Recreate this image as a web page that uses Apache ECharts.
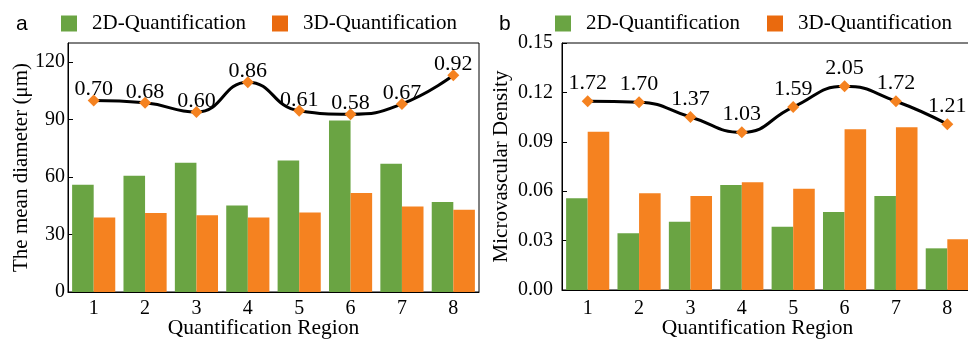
<!DOCTYPE html>
<html>
<head>
<meta charset="utf-8">
<script src="https://cdn.jsdelivr.net/npm/echarts@6/dist/echarts.min.js"></script>
<style>
html,body{margin:0;padding:0;background:#fff;}
#c{width:968px;height:339px;}
</style>
</head>
<body>
<div id="c"></div>
<script>
const categories = ['1','2','3','4','5','6','7','8'];
const diam2D = [56.0, 60.7, 67.5, 45.2, 68.6, 89.5, 66.9, 47.0];
const diam3D = [38.9, 41.2, 40.1, 38.9, 41.5, 51.7, 44.7, 42.9];
const diamRatio = [0.70, 0.68, 0.60, 0.86, 0.61, 0.58, 0.67, 0.92];
const dens2D = [0.0557, 0.0344, 0.0415, 0.0638, 0.0384, 0.0474, 0.0571, 0.0253];
const dens3D = [0.0961, 0.0587, 0.0571, 0.0654, 0.0615, 0.0976, 0.0988, 0.0308];
const densRatio = [1.72, 1.70, 1.37, 1.03, 1.59, 2.05, 1.72, 1.21];
const diamTicks = {min: 0, max: 130, interval: 30};
const densTicks = {min: 0, max: 0.15, interval: 0.03};

const SERIF = '"Liberation Serif", "Times New Roman", serif';
const GREEN = '#6AA443';
const ORANGE = '#F58220';
const ORANGE_LEG = '#EA6A0E';

const chart = echarts.init(document.getElementById('c'), null, {renderer: 'canvas'});

function xAxis(gridIndex, labelMargin, nameGap) {
  return {
    type: 'category', gridIndex, data: categories,
    axisLine: {lineStyle: {color: '#000', width: 1}},
    axisTick: {inside: true, length: 5, lineStyle: {color: '#000'}},
    axisLabel: {color: '#000', fontFamily: SERIF, fontSize: 20, margin: labelMargin},
    name: 'Quantification Region', nameLocation: 'middle', nameGap, nameMoveOverlap: false,
    nameTextStyle: {color: '#000', fontFamily: SERIF, fontSize: 21.5, padding: [0, 20, 0, 0]}
  };
}
function yAxis(gridIndex, t, name, nameGap, labelMargin, fmt) {
  return {
    type: 'value', gridIndex, min: t.min, max: t.max, interval: t.interval,
    axisLine: {show: true, lineStyle: {color: '#000', width: 1}},
    axisTick: {show: true, inside: true, length: 5, lineStyle: {color: '#000'}},
    splitLine: {show: false},
    axisLabel: {color: '#000', fontFamily: SERIF, fontSize: 20, margin: labelMargin, formatter: fmt, showMaxLabel: gridIndex === 1},
    name, nameLocation: 'middle', nameGap, nameMoveOverlap: false,
    nameTextStyle: {color: '#000', fontFamily: SERIF, fontSize: 21}
  };
}
function legend(left, name, color) {
  return {
    left, top: 13, padding: 0, itemWidth: 16, itemHeight: 16, icon: 'rect',
    data: [{name, itemStyle: {color}}],
    textStyle: {color: '#000', fontFamily: SERIF, fontSize: 21, padding: [0, 0, 0, 10]},
    selectedMode: false
  };
}

const option = {
  animation: false,
  backgroundColor: '#fff',
  graphic: [
    {type: 'text', left: 16, top: 14, style: {text: 'a', fontFamily: '"Liberation Sans", Arial, sans-serif', fontSize: 21, fill: '#000'}},
    {type: 'text', left: 499, top: 14, style: {text: 'b', fontFamily: '"Liberation Sans", Arial, sans-serif', fontSize: 21, fill: '#000'}}
  ],
  legend: [
    legend(61, '2D-Quantification', GREEN),
    legend(272, '3D-Quantification', ORANGE_LEG),
    legend(555, '2D-Quantification', GREEN),
    legend(767, '3D-Quantification', ORANGE_LEG)
  ],
  grid: [
    {left: 68, right: 489, top: 43, bottom: 47, show: true, borderColor: '#000', borderWidth: 1, outerBoundsMode: 'none', containLabel: false},
    {left: 562, right: -5, top: 43, bottom: 49, show: true, borderColor: '#000', borderWidth: 1, outerBoundsMode: 'none', containLabel: false}
  ],
  xAxis: [xAxis(0, 7, 25), xAxis(1, 9, 27)],
  yAxis: [
    yAxis(0, diamTicks, 'The mean diameter (μm)', 36, 3, v => String(v)),
    {type: 'value', gridIndex: 0, min: -0.972, max: 1.202, show: false},
    yAxis(1, densTicks, 'Microvascular Density', 50, 9, v => v.toFixed(2)),
    {type: 'value', gridIndex: 1, min: -2.472, max: 3.013, show: false}
  ],
  series: [
    {name: '2D-Quantification', type: 'bar', xAxisIndex: 0, yAxisIndex: 0, data: diam2D, barGap: '0%', barCategoryGap: '16%', itemStyle: {color: GREEN}},
    {name: '3D-Quantification', type: 'bar', xAxisIndex: 0, yAxisIndex: 0, data: diam3D, barGap: '0%', barCategoryGap: '16%', itemStyle: {color: ORANGE}},
    {name: 'ratioA', type: 'line', xAxisIndex: 0, yAxisIndex: 1, data: diamRatio, smooth: 0.5,
      lineStyle: {color: '#000', width: 3}, symbol: 'diamond', symbolSize: 12, itemStyle: {color: ORANGE},
      label: {show: true, position: 'top', distance: -6, color: '#000', fontFamily: SERIF, fontSize: 22, formatter: p => p.value.toFixed(2)}, z: 5},
    {name: '2D-Quantification', type: 'bar', xAxisIndex: 1, yAxisIndex: 2, data: dens2D, barGap: '0%', barCategoryGap: '16%', itemStyle: {color: GREEN}},
    {name: '3D-Quantification', type: 'bar', xAxisIndex: 1, yAxisIndex: 2, data: dens3D, barGap: '0%', barCategoryGap: '16%', itemStyle: {color: ORANGE}},
    {name: 'ratioB', type: 'line', xAxisIndex: 1, yAxisIndex: 3, data: densRatio, smooth: 0.5,
      lineStyle: {color: '#000', width: 3}, symbol: 'diamond', symbolSize: 12, itemStyle: {color: ORANGE},
      label: {show: true, position: 'top', distance: 1, color: '#000', fontFamily: SERIF, fontSize: 22, formatter: p => p.value.toFixed(2)}, z: 5}
  ]
};
chart.setOption(option);
</script>
</body>
</html>
